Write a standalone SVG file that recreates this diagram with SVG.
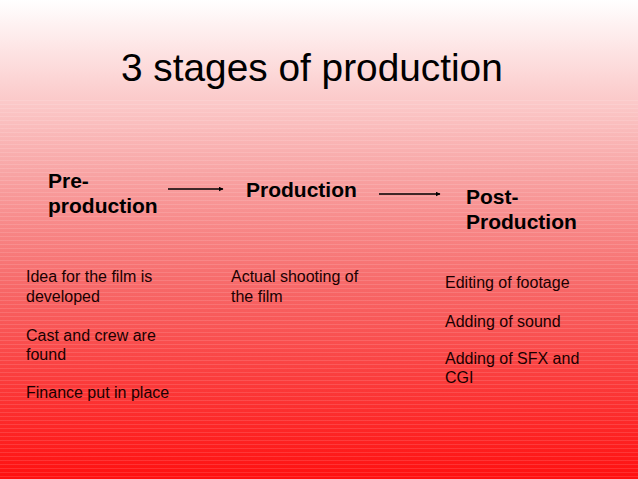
<svg xmlns="http://www.w3.org/2000/svg" width="638" height="479" viewBox="0 0 638 479">
  <defs>
    <linearGradient id="bg" x1="0" y1="0" x2="0" y2="1">
      <stop offset="0" stop-color="#ffffff"/>
      <stop offset="0.12" stop-color="#fde0e0"/>
      <stop offset="0.36" stop-color="#f8a4a4"/>
      <stop offset="0.6" stop-color="#f76868"/>
      <stop offset="0.8" stop-color="#fb3a3a"/>
      <stop offset="1" stop-color="#ff1010"/>
    </linearGradient>
    <pattern id="stripes" width="8" height="4" patternUnits="userSpaceOnUse">
      <rect x="0" y="0" width="8" height="1" fill="#ffffff" fill-opacity="0.12"/>
    </pattern>
    <marker id="arrow" viewBox="0 0 10 10" refX="9" refY="5" markerWidth="5" markerHeight="5" orient="auto" markerUnits="userSpaceOnUse">
      <path d="M0,0 L10,5 L0,10 z" fill="#000"/>
    </marker>
    <style>
      .title { font-family: "Liberation Sans", Arial, sans-serif; font-size: 38.8px; fill: #000; }
      .head { font-family: "Liberation Sans", Arial, sans-serif; font-size: 21px; font-weight: bold; fill: #000; }
      .body { font-family: "Liberation Sans", Arial, sans-serif; font-size: 16px; fill: #1a0000; }
      .conn { stroke: #000; stroke-width: 1.3; fill: none; }
    </style>
  </defs>
  <rect width="638" height="479" fill="url(#bg)"/>
  <rect y="100" width="638" height="379" fill="url(#stripes)"/>

  <text class="title" x="121" y="81">3 stages of production</text>

  <g id="node-preproduction">
    <text class="head" x="48" y="188">Pre-</text>
    <text class="head" x="48" y="213">production</text>
    <text class="body" x="26" y="282">Idea for the film is</text>
    <text class="body" x="26" y="302">developed</text>
    <text class="body" x="26" y="341">Cast and crew are</text>
    <text class="body" x="26" y="360">found</text>
    <text class="body" x="26" y="398">Finance put in place</text>
  </g>

  <g id="node-production">
    <text class="head" x="246" y="197">Production</text>
    <text class="body" x="231" y="282">Actual shooting of</text>
    <text class="body" x="231" y="302">the film</text>
  </g>

  <g id="node-postproduction">
    <text class="head" x="466" y="204">Post-</text>
    <text class="head" x="466" y="229">Production</text>
    <text class="body" x="445" y="288">Editing of footage</text>
    <text class="body" x="445" y="327">Adding of sound</text>
    <text class="body" x="445" y="364">Adding of SFX and</text>
    <text class="body" x="445" y="383">CGI</text>
  </g>

  <g id="connectors">
    <line class="conn" x1="168" y1="189" x2="223" y2="189" marker-end="url(#arrow)"/>
    <line class="conn" x1="379" y1="194" x2="440" y2="194" marker-end="url(#arrow)"/>
  </g>
</svg>
